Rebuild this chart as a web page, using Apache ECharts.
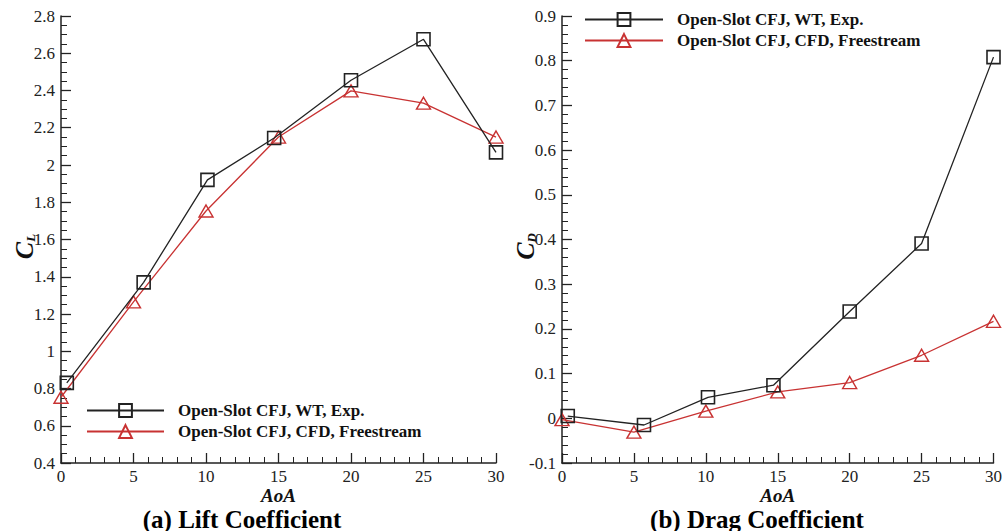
<!DOCTYPE html>
<html>
<head>
<meta charset="utf-8">
<script src="https://cdn.jsdelivr.net/npm/echarts@6/dist/echarts.min.js"></script>
<style>
html,body{margin:0;padding:0;background:#fff;}
#chart{width:1005px;height:531px;}
</style>
</head>
<body>
<div id="chart"></div>
<script>
// ---- data ----
const seriesNames = ['Open-Slot CFJ, WT, Exp.', 'Open-Slot CFJ, CFD, Freestream'];
const liftAoaExp = [0.4, 5.7, 10.1, 14.7, 20.0, 25.0, 30.0];
const liftClExp  = [0.83, 1.37, 1.92, 2.145, 2.455, 2.675, 2.068];
const liftAoaCfd = [0, 5, 10, 15, 20, 25, 30];
const liftClCfd  = [0.753, 1.265, 1.753, 2.15, 2.398, 2.332, 2.15];
const dragAoaExp = [0.4, 5.7, 10.15, 14.7, 20.0, 25.0, 30.0];
const dragCdExp  = [0.005, -0.015, 0.047, 0.074, 0.239, 0.391, 0.808];
const dragAoaCfd = [0, 5, 10, 15, 20, 25, 30];
const dragCdCfd  = [-0.003, -0.031, 0.016, 0.059, 0.08, 0.141, 0.217];
const panelTitles = ['(a) Lift Coefficient', '(b) Drag Coefficient'];
const yNames = ['L', 'D'];

const zip = (a, b) => a.map((v, i) => [v, b[i]]);
const FONT = 'Liberation Serif';
const BLACK = '#222';
const RED = '#c83232';

function xAxisCfg(gi) {
  return {
    gridIndex: gi, type: 'value', min: 0, max: 30, interval: 5,
    name: 'AoA', nameLocation: 'middle', nameGap: 23, nameMoveOverlap: false,
    nameTextStyle: {fontFamily: FONT, fontWeight: 'bold', fontStyle: 'italic', fontSize: 19, color: '#111', lineHeight: 18},
    axisLine: {show: true, onZero: false, lineStyle: {color: BLACK, width: 1.5}},
    axisTick: {show: true, inside: true, length: 10, lineStyle: {color: BLACK, width: 1.3}},
    minorTick: {show: true, splitNumber: 5, length: 6, lineStyle: {color: BLACK, width: 1}},
    axisLabel: {fontFamily: FONT, fontSize: 17, lineHeight: 17, color: '#222', margin: 5},
    splitLine: {show: false}
  };
}
function yAxisCfg(gi, min, max, interval, minorSplit, sub) {
  return {
    gridIndex: gi, type: 'value', min: min, max: max, interval: interval,
    name: '{c|C}{s|' + sub + '}', nameLocation: 'middle', nameRotate: 90, nameGap: 24, nameMoveOverlap: false,
    nameTextStyle: {
      padding: [0, 14, 0, 0],
      rich: {
        c: {fontFamily: FONT, fontWeight: 'bold', fontStyle: 'italic', fontSize: 26, color: '#111', verticalAlign: 'top', lineHeight: 26, padding: [0, 0, 8, 0]},
        s: {fontFamily: FONT, fontWeight: 'bold', fontStyle: 'italic', fontSize: 13, color: '#111', verticalAlign: 'bottom', lineHeight: 13}
      }
    },
    axisLine: {show: true, onZero: false, lineStyle: {color: BLACK, width: 1.5}},
    axisTick: {show: true, inside: true, length: 10, lineStyle: {color: BLACK, width: 1.3}},
    minorTick: {show: true, splitNumber: minorSplit, length: 6, lineStyle: {color: BLACK, width: 1}},
    axisLabel: {fontFamily: FONT, fontSize: 17, color: '#222', margin: 6},
    splitLine: {show: false}
  };
}
function expSeries(xi, data) {
  return {
    name: seriesNames[0], type: 'line', xAxisIndex: xi, yAxisIndex: xi, data: data,
    symbol: 'rect', symbolSize: 13, clip: false,
    lineStyle: {color: BLACK, width: 1.3},
    itemStyle: {color: 'rgba(255,255,255,0)', borderColor: BLACK, borderWidth: 1.6},
    z: 3
  };
}
function cfdSeries(xi, data) {
  return {
    name: seriesNames[1], type: 'line', xAxisIndex: xi, yAxisIndex: xi, data: data,
    symbol: 'triangle', symbolSize: [14, 12], clip: false,
    lineStyle: {color: RED, width: 1.3},
    itemStyle: {color: 'rgba(255,255,255,0)', borderColor: RED, borderWidth: 1.4},
    z: 2
  };
}
const legendText = {fontFamily: FONT, fontWeight: 'bold', fontSize: 17, color: '#111', padding: [0, 0, 0, 9]};

const option = {
  animation: false,
  backgroundColor: '#fff',
  textStyle: {fontFamily: FONT},
  grid: [
    {left: 61, right: 509, top: 16, bottom: 68},
    {left: 562, right: 8, top: 16, bottom: 68}
  ],
  title: [
    {text: panelTitles[0], left: 242, top: 507, textAlign: 'center', padding: 0,
     textStyle: {fontFamily: FONT, fontWeight: 'bold', fontSize: 25, lineHeight: 24, color: '#000'}},
    {text: panelTitles[1], left: 757, top: 507, textAlign: 'center', padding: 0,
     textStyle: {fontFamily: FONT, fontWeight: 'bold', fontSize: 25, lineHeight: 24, color: '#000'}}
  ],
  legend: [
    {data: seriesNames, orient: 'vertical', left: 86, top: 402, padding: 0, itemWidth: 77, itemHeight: 16, itemGap: 4, textStyle: legendText},
    {data: seriesNames, orient: 'vertical', left: 584, top: 11, padding: 0, itemWidth: 78, itemHeight: 16, itemGap: 4, textStyle: legendText}
  ],
  xAxis: [xAxisCfg(0), xAxisCfg(1)],
  yAxis: [yAxisCfg(0, 0.4, 2.8, 0.2, 4, yNames[0]), yAxisCfg(1, -0.1, 0.9, 0.1, 5, yNames[1])],
  series: [
    expSeries(0, zip(liftAoaExp, liftClExp)),
    cfdSeries(0, zip(liftAoaCfd, liftClCfd)),
    expSeries(1, zip(dragAoaExp, dragCdExp)),
    cfdSeries(1, zip(dragAoaCfd, dragCdCfd))
  ]
};
const chart = echarts.init(document.getElementById('chart'), null, {renderer: 'svg'});
chart.setOption(option);
</script>
</body>
</html>
